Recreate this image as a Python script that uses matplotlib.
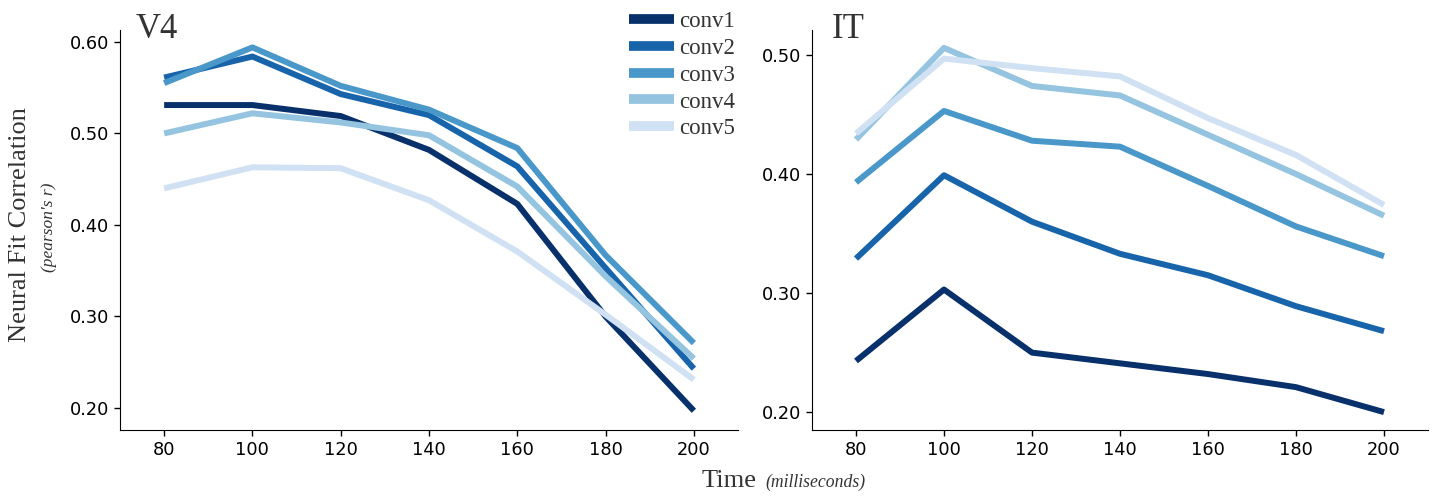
import matplotlib
matplotlib.use("Agg")
import matplotlib.pyplot as plt

# --- DATA ---
times = [80, 100, 120, 140, 160, 180, 200]
layers = ["conv1", "conv2", "conv3", "conv4", "conv5"]

v4_conv1 = [0.531, 0.531, 0.519, 0.482, 0.423, 0.300, 0.197]
v4_conv2 = [0.561, 0.584, 0.543, 0.520, 0.464, 0.353, 0.243]
v4_conv3 = [0.555, 0.594, 0.552, 0.526, 0.484, 0.367, 0.271]
v4_conv4 = [0.500, 0.522, 0.512, 0.498, 0.442, 0.344, 0.254]
v4_conv5 = [0.440, 0.463, 0.462, 0.427, 0.371, 0.302, 0.231]

it_conv1 = [0.243, 0.303, 0.250, 0.241, 0.232, 0.221, 0.200]
it_conv2 = [0.329, 0.399, 0.360, 0.333, 0.315, 0.289, 0.268]
it_conv3 = [0.393, 0.453, 0.428, 0.423, 0.390, 0.356, 0.331]
it_conv4 = [0.429, 0.506, 0.474, 0.466, 0.433, 0.400, 0.365]
it_conv5 = [0.434, 0.497, 0.489, 0.482, 0.447, 0.416, 0.374]

colors = ["#08306b", "#1764ab", "#4a98c9", "#94c4df", "#cfe1f2"]

W, H = 1435, 496
fig = plt.figure(figsize=(W / 100, H / 100), dpi=100)

def px_axes(x0, y0, x1, y1):
    # pixel box (top-left origin) -> figure fraction
    return fig.add_axes([x0 / W, 1 - y1 / H, (x1 - x0) / W, (y1 - y0) / H])

ax1 = px_axes(120, 30, 738, 430)
ax2 = px_axes(812, 30, 1428, 430)

panels = [
    (ax1, "V4", 0.026, [v4_conv1, v4_conv2, v4_conv3, v4_conv4, v4_conv5], (0.176, 0.613), [0.2, 0.3, 0.4, 0.5, 0.6]),
    (ax2, "IT", 0.032, [it_conv1, it_conv2, it_conv3, it_conv4, it_conv5], (0.185, 0.521), [0.2, 0.3, 0.4, 0.5]),
]

serif = "Liberation Serif"
txt_col = "#333333"

for ax, name, tx, series, ylim, yticks in panels:
    for vals, c, lab in zip(series, colors, layers):
        ax.plot(times, vals, color=c, lw=4.3, label=lab, solid_capstyle="butt")
    ax.set_xlim(70, 210)
    ax.set_ylim(*ylim)
    ax.set_xticks(times)
    ax.set_yticks(yticks)
    ax.set_yticklabels(["%.2f" % t for t in yticks])
    ax.tick_params(labelsize=12.8, length=4.3, width=1, pad=3.5, direction="out")
    ax.spines["top"].set_visible(False)
    ax.spines["right"].set_visible(False)
    ax.text(tx, 0.98, name, transform=ax.transAxes, fontsize=25,
            family=serif, color=txt_col, va="baseline", ha="left")

leg = ax1.legend(loc="upper right", bbox_to_anchor=(1.01, 1.07), frameon=False,
                 prop={"family": serif, "size": 16.5}, handlelength=2.0,
                 handletextpad=0.2, labelspacing=0.25, borderaxespad=0)
for h in leg.get_lines():
    h.set_linewidth(7)
for t in leg.get_texts():
    t.set_color(txt_col)

# axis labels
fig.text(20 / W, 1 - 225 / H, "Neural Fit Correlation", rotation=90, family=serif,
         fontsize=19, color=txt_col, ha="center", va="center")
fig.text(49 / W, 1 - 227 / H, "(pearson's r)", rotation=90, family=serif, style="italic",
         fontsize=12.5, color=txt_col, ha="center", va="center")
fig.text(757 / W, 1 - 487 / H, "Time", family=serif, fontsize=19, color=txt_col,
         ha="right", va="baseline")
fig.text(765 / W, 1 - 487 / H, "(milliseconds)", family=serif, style="italic",
         fontsize=12.7, color=txt_col, ha="left", va="baseline")

fig.savefig("out.png", dpi=100)
